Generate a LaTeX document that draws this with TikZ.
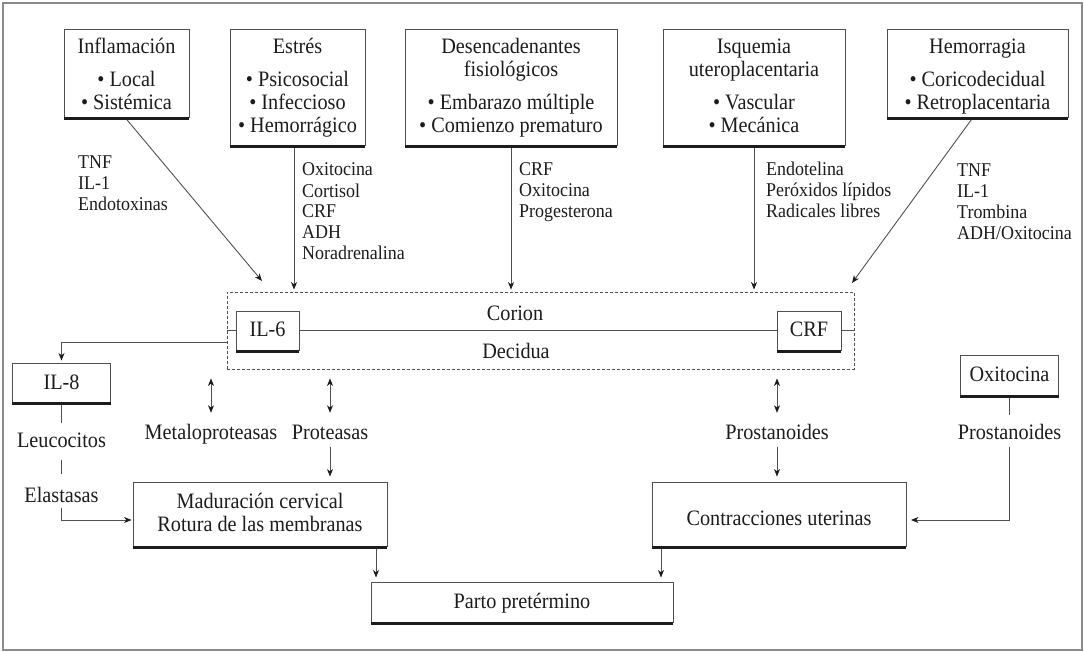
\documentclass[tikz,border=0pt]{standalone}
\usepackage{fontspec}
\setmainfont{Liberation Serif}[FakeStretch=0.92]
\usetikzlibrary{arrows.meta,calc}
\definecolor{ink}{HTML}{1E1B1C}
\definecolor{rulec}{HTML}{505050}
\definecolor{framec}{HTML}{8A8A8A}
\newcommand\boxsize{\fontsize{22}{23}\selectfont}
\newcommand\lblsize{\fontsize{19.5}{21}\selectfont}

\begin{document}
\begin{tikzpicture}[x=1pt,y=-1pt,
  every node/.style={text=ink},
  box/.style={draw=rulec, line width=0.9pt, inner sep=0pt, align=center, font=\boxsize, anchor=base},
  txt/.style={inner sep=0pt, align=center, font=\boxsize, anchor=base},
  lbl/.style={inner sep=0pt, align=left, font=\lblsize, anchor=base west},
  conn/.style={draw=rulec, line width=0.9pt},
  tip/.style={Stealth[length=7.5pt,width=6pt,inset=2.2pt,color=ink]},
  arr/.style={conn, -{Stealth[length=7.5pt,width=6pt,inset=2.2pt,color=ink]}},
  darr/.style={conn, {Stealth[length=7.5pt,width=6pt,inset=2.2pt,color=ink]}-{Stealth[length=7.5pt,width=6pt,inset=2.2pt,color=ink]}},
  layer/.style={draw=rulec, line width=0.8pt, dash pattern=on 3pt off 2pt, inner sep=0pt},
  shadowline/.style={draw=ink, line width=3pt},
]
\useasboundingbox (0,0) rectangle (1084,652);
\draw[framec, line width=1.2pt] (3,3) rectangle (1082,650);

% causes (each node sits on the baseline of its last line)
\node[box, minimum width=125pt, text height=81pt, text depth=7pt] (infl) at (126.5,110)
  {Inflamación\\[10pt]• Local\\• Sistémica};
\node[box, minimum width=135pt, text height=104pt, text depth=12pt] (estres) at (297.5,133)
  {Estrés\\[10pt]• Psicosocial\\• Infeccioso\\• Hemorrágico};
\node[box, minimum width=212pt, text height=104pt, text depth=12pt] (desenc) at (511,133)
  {Desencadenantes\\fisiológicos\\[10pt]• Embarazo múltiple\\• Comienzo prematuro};
\node[box, minimum width=182pt, text height=104pt, text depth=12pt] (isq) at (754,133)
  {Isquemia\\uteroplacentaria\\[10pt]• Vascular\\• Mecánica};
\node[box, minimum width=181pt, text height=81pt, text depth=7pt] (hemo) at (977.5,110)
  {Hemorragia\\[10pt]• Coricodecidual\\• Retroplacentaria};

% mediators
\node[lbl] (l1) at (78,211) {TNF\\IL-1\\Endotoxinas};
\node[lbl] (l2) at (302,260) {Oxitocina\\Cortisol\\CRF\\ADH\\Noradrenalina};
\node[lbl] (l3) at (519,218) {CRF\\Oxitocina\\Progesterona};
\node[lbl] (l4) at (766,218) {Endotelina\\Peróxidos lípidos\\Radicales libres};
\node[lbl] (l5) at (957,240) {TNF\\IL-1\\Trombina\\ADH/Oxitocina};

% chorion / decidua
\node[layer, minimum width=627pt, minimum height=77pt] (cd) at (540.5,330.5) {};
\node[txt] (corion) at (515,320) {Corion};
\node[txt] (decidua) at (516,358) {Decidua};
\node[box, minimum width=63pt, text height=25pt, text depth=14pt] (il6) at (267.5,336) {IL-6};
\node[box, minimum width=64pt, text height=25pt, text depth=14pt] (crf) at (809,336) {CRF};

% effectors
\node[box, minimum width=98pt, text height=26pt, text depth=13pt] (il8) at (61.5,389) {IL-8};
\node[box, minimum width=98pt, text height=26pt, text depth=14pt] (oxi) at (1009.5,381) {Oxitocina};
\node[txt, text height=24pt, text depth=13pt] (leuc) at (61.5,447) {Leucocitos};
\node[txt, text height=28pt, text depth=6pt] (elast) at (61.5,502) {Elastasas};
\node[txt, text height=26pt, text depth=8pt] (meta) at (211,439) {Metaloproteasas};
\node[txt, text height=26pt, text depth=8pt] (prot) at (330,439) {Proteasas};
\node[txt, text height=26pt, text depth=8pt] (pros1) at (777,439) {Prostanoides};
\node[txt, text height=24pt, text depth=8pt] (pros2) at (1009.5,439) {Prostanoides};

% outcomes
\node[box, minimum width=254pt, text height=49pt, text depth=15pt] (mad) at (260,531)
  {Maduración cervical\\Rotura de las membranas};
\node[box, minimum width=254pt, text height=43pt, text depth=21pt] (cont) at (779,525)
  {Contracciones uterinas};
\node[box, minimum width=302pt, text height=26pt, text depth=14pt] (parto) at (522,608)
  {Parto pretérmino};

% connectors from the causes
\coordinate (inEnd) at (262,281);
\coordinate (heEnd) at (852,283);
\draw[arr] ([xshift=-1.5pt]infl.south) -- (inEnd);
\draw[arr, shorten >=2pt] ([xshift=-3.5pt]estres.south) -- ([xshift=-3.5pt]estres.south |- cd.north);
\draw[arr, shorten >=2pt] (desenc.south) -- (desenc.south |- cd.north);
\draw[arr, shorten >=2pt] (isq.south) -- (isq.south |- cd.north);
\draw[arr] ([xshift=-4.5pt]hemo.south) -- (heEnd);

% inside the membranes
\draw[conn] (cd.west |- il6.west) -- (il6.west);
\draw[conn] (il6.east) -- (crf.west);
\draw[conn] (crf.east) -- (cd.east |- crf.east);

% left branch
\draw[arr, shorten >=2pt] ([yshift=-11.5pt]cd.west) -| (il8.north);
\draw[conn] (il8.south) -- (leuc.north);
\draw[conn] (leuc.south) -- (elast.north);
\draw[arr, shorten >=1pt] (elast.south) |- ([yshift=-6pt]mad.west);

% middle branches
\draw[darr, shorten <=9pt] (meta.north |- cd.south) -- (meta.north);
\draw[darr, shorten <=9pt] (prot.north |- cd.south) -- (prot.north);
\draw[darr, shorten <=9pt] (pros1.north |- cd.south) -- (pros1.north);
\draw[arr, shorten >=5pt] (prot.south) -- (prot.south |- mad.north);
\draw[arr, shorten >=5pt] (pros1.south) -- (pros1.south |- cont.north);

% right branch
\draw[conn] (oxi.south) -- (pros2.north);
\draw[arr, shorten >=4.5pt] (pros2.south) |- ([yshift=-6pt]cont.east);

% to preterm birth
\draw[arr, shorten >=4pt] ([xshift=116pt]mad.south) -- ([xshift=116pt]mad.south |- parto.north);
\draw[arr, shorten >=4pt] ([xshift=-118pt]cont.south) -- ([xshift=-118pt]cont.south |- parto.north);

% heavy lower edges of the boxes
\foreach \n in {infl,estres,desenc,isq,hemo,il6,crf,il8,oxi,mad,cont,parto}
  \draw[shadowline] ([yshift=-1.5pt]\n.south west) -- ([yshift=-1.5pt]\n.south east);
\end{tikzpicture}
\end{document}
